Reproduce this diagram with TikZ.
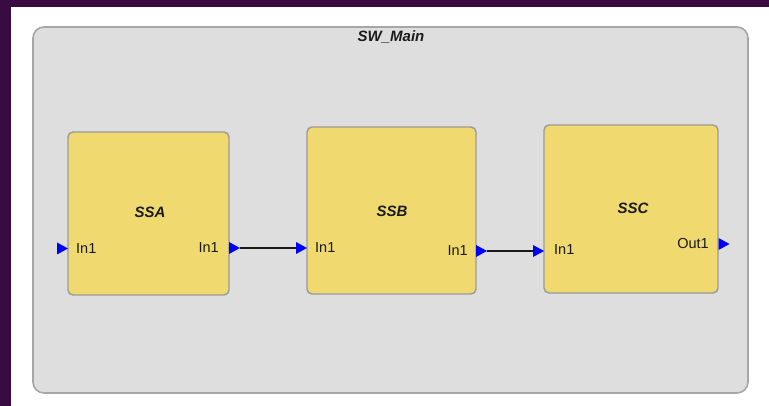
\documentclass[tikz,border=0pt]{standalone}
\usepackage{fontspec}
\setmainfont{Liberation Sans}
\definecolor{frame}{HTML}{3A0B42}
\definecolor{panel}{HTML}{DEDEDE}
\definecolor{panelline}{HTML}{A6A6A6}
\definecolor{block}{HTML}{F0DA70}
\definecolor{blockline}{HTML}{9A9A9A}
\definecolor{txt}{HTML}{1A1A1A}
\tikzset{
  container/.style={draw=panelline, line width=1.6pt, fill=panel, rounded corners=11pt},
  subsys/.style={draw=blockline, line width=1.4pt, fill=block, rounded corners=5pt},
  title/.style={font=\fontsize{15}{16}\selectfont\bfseries\itshape, text=txt, inner sep=0},
  portlabel/.style={font=\fontsize{14.5}{15}\selectfont, text=txt, inner sep=0},
  port/.style={fill=blue},
  wire/.style={draw=black!90, line width=1.3pt},
}
\newcommand{\porttri}[1]{\fill[port] (#1) -- ++(0,6) -- ++(11,-6) -- ++(-11,-6) -- cycle;}
\begin{document}
\begin{tikzpicture}[x=1pt,y=-1pt]
  \useasboundingbox (0,0) rectangle (769,406);
  % window frame and canvas
  \fill[frame] (0,0) rectangle (769,406);
  \fill[white] (11,7) rectangle (769,406);

  % SW_Main container
  \path[container] (33,27) rectangle (748,393);
  \node[title] (main) at (391,37) {SW\_Main};

  % subsystems
  \path[subsys] (68,132) rectangle (229,295);
  \path[subsys] (307,127) rectangle (476,294);
  \path[subsys] (544,125) rectangle (718,293);

  \node[title] (ssa) at (150,212) {SSA};
  \node[title] (ssb) at (392,211) {SSB};
  \node[title] (ssc) at (633,208) {SSC};

  \node[portlabel, anchor=west] (ssaIn) at (76,248.5) {In1};
  \node[portlabel, anchor=east] (ssaOut) at (219,248) {In1};
  \node[portlabel, anchor=west] (ssbIn) at (315,247.5) {In1};
  \node[portlabel, anchor=east] (ssbOut) at (468,250.5) {In1};
  \node[portlabel, anchor=west] (sscIn) at (554,250) {In1};
  \node[portlabel, anchor=east] (sscOut) at (709,244) {Out1};

  % port positions (left end of each triangle)
  \coordinate (pA1) at (57,248.5);
  \coordinate (pA2) at (229,248);
  \coordinate (pB1) at (296,248);
  \coordinate (pB2) at (476,251);
  \coordinate (pC1) at (533,251);
  \coordinate (pC2) at (718.5,244);

  % connectors
  \draw[wire] ([xshift=11pt]pA2) -- (pB1);
  \draw[wire] ([xshift=11pt]pB2) -- (pC1);

  % port triangles
  \porttri{pA1}
  \porttri{pA2}
  \porttri{pB1}
  \porttri{pB2}
  \porttri{pC1}
  \porttri{pC2}
\end{tikzpicture}
\end{document}
